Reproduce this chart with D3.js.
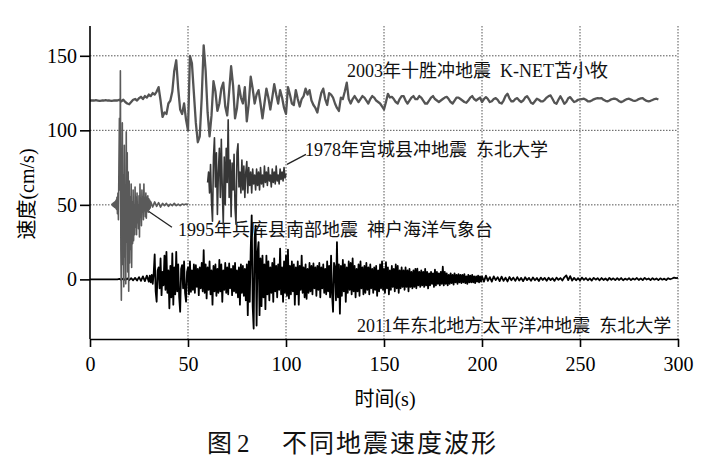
<!DOCTYPE html>
<html><head><meta charset="utf-8">
<script src="https://cdn.jsdelivr.net/npm/d3@7/dist/d3.min.js"></script>
<style>body{margin:0;background:#fff}svg{display:block}</style>
</head><body>
<svg id="chart" width="705" height="463"></svg>
<script>
// ---- tick labels ----
const xTicks = [0, 50, 100, 150, 200, 250, 300];
const yTicks = [0, 50, 100, 150];
const yGrid = [50, 100, 150];

// ---- 2003 Tokachi-oki, K-NET Tomakomai (offset +120), t0=0, dt=1 ----
const tokachiT0 = 0, tokachiDt = 1;
const tokachi = [
 120,120,120,120.2,120,119.8,120,120,120.2,120,
 120,119.8,120,120,120,120.5,119.5,120.5,119,118,
 117.5,119,120.5,121,120,121.5,122.5,121,123,122,
 124,123,125,124,126,129,120,109,112,111,
 118,120,126,140,147,128,114,111,118,107,
 100,150,145,125,105,92,96,122,157,140,
 112,96,110,133,126,113,118,128,132,116,
 110,126,143,130,108,115,130,122,118,129,
 106,118,136,128,118,124,127,118,108,118,
 128,122,114,122,131,124,118,127,122,115,
 111,129,124,118,117,127,121,116,121,123,
 128,124,127,120,117,115,112,119,125,128,
 121,117,125,124,122,118,115,113,122,121,
 126,132,121,118,121,123,121,119,121,123,
 122,120,118,121,123,122,120,119,118,116,
 114,119,124.5,122,122.5,121,119,118,121,123,
 123,120,118,120,122,123,121,121,123,122,
 120,118,118,120,122,123,121,120,119,120,
 121,122,122.5,121,119,118,120,122,122,121,
 120,119,118.5,120,122,123,121,120,121,122,
 119,121,122.3,121,119,119.5,121,121.6,120.5,118.5,
 118,120,123,124.5,121.5,119.5,119.5,121,121.6,120,
 119,120,122,122.9,121,118.5,117.8,119.5,121.2,120.5,
 119.5,119.4,120.5,122,123,123.4,121,118.5,117.8,120.5,
 122.9,120.5,117.8,119,121.5,122.3,120.5,119,119.5,120.5,
 120.7,121,121.2,120.5,119.5,119.4,120,120.8,121.3,121.6,
 121.4,121.6,120.5,119.8,119.4,120,120.8,121.2,121.2,120.6,
 119.5,118.9,119.5,120.3,121,121.2,120.6,120,119.7,120.2,
 121,121.4,121.6,120.5,119.7,119.4,119.8,120.4,121,121.2,
 120.7
];

// ---- 1978 Miyagi-oki, Tohoku Univ. (about +70), t0=60, dt=0.5 ----
const miyagiT0 = 60, miyagiDt = 0.5;
const miyagi = [
 65,72,58,77,52,39,82,95,62,85,
 43.6,72,88,55,94,60,37,82,50,88,
 65,107,55,80,42,78,60,84,48,37,
 85,91,62,72,58,80,60,76,55,72,
 79,58,75,63,72,58,74,64,70,60,
 74,63,72,60,75,64,70,62,76,65,
 72,63,75,66,70,62,74,65,72,64,
 76,66,70,64,74,67,72,66,75,68,
 71
];

// ---- 1995 Hyogo-ken Nanbu, Kobe (offset +50) ----
const kobeMainT0 = 11, kobeMainDt = 0.25;
const kobeMain = [
 50,50.5,49.5,51,49,51.5,48.5,52,
 48,53,47,55,44,58,40,75,
 108,60,140,20,-14,40,105,10,
 70,-5,90,15,60,-3,99,25,
 85,5,72,-8,66,11,55,20,
 64,8,52,24,60,26,50,30,
 62,35,55,30,58,38,50,34,
 56,28.5,64,42,52,36,60,45,
 55,40,64,46,53,42,58,41,
 55,46,56,45,54,47,53,48
];
const kobeTailT0 = 31, kobeTailDt = 1;
const kobeTail = [52,48.5,52,49,51.5,48.5,51,49.5,51,49,50.5,49.5,51,49.5,50.5,49.5,50.5,50,50.5,50];

// ---- 2011 Tohoku, Tohoku Univ. (offset 0) ----
const tohokuPreT0 = 0, tohokuPreDt = 1;
const tohokuPre = [
 0,0,0,0,0,0,0,0,0,0,
 0,0,0,0,0,0.3,-0.3,0.5,-0.4,0.6,
 -0.5,0.8,-0.6,1,-0.8,1.5,-1,2,-1.2,2.5
];
const tohokuMainT0 = 30, tohokuMainDt = 0.5;
const tohokuMain = [
 -1.5,2.5,-2,3,-3,4,16.7,-8,-15,6,
 8,-6,14,-10.6,5,-4,16,-7,18.5,-9,
 6,-19.4,9,-12,17.4,-17,8,-10,18.5,-8,
 10,-12,-21.7,7,9.6,-6,12,-9,-15,5,
 8,-10,12,-8.3,6,-7,10,-9,9.6,-5,
 7,-10.6,8,-6,11,-8,19.6,-9,10,-12.8,
 8,-7,12,-10,6,-17,9,-8,10,-11,
 7,-9,13,-8,10,-15,6,-7,11,-9,
 8,-10,10.7,-6,7,-10.6,9,-8,11,-9,
 6,-12,8,-17,10,-9,9,-11,7,-14,
 10,-24,12,-15,20,43,-18,-33,28,36,
 -31,18,25,-24,14,-18,16,-12,10,-20,
 16,-10,12,-14,8,-9,11,-15,14,-8,
 9,-12,10,-7,20.7,-10,8,-15,12,-9,
 16,-11,20,-12.8,9,-10,12,-8,10,-17,
 8,-10,12,-17,9,-7,16,-9,8,-12,
 10,-13,7,-9,11,-8,9,-10,10.7,-6,
 8,-11,9,-7,11,-12,8,-6,10,-9,
 7,-10,12,-8,9,-12,16,-10,-21.7,11,
 8,-14,25,-12,10,-23,9,-11,13,-8,
 10,-15,8,-9,12,-7,11,-10,14,-8,
 9,-12,7,-8,10,-11,12,-6,8,-10,
 9,-9,11,-7,8,-10,10,-6,7,-9,
 8,-7,9,-11,6,-8,10,-6,12,-7,
 7,-9,11.5,-6,8,-10,6,-7,9,-5,
 7,-8,10,-6,9,-9,6,-6,8,-5,
 6,-7,8,-5,6,-8,7,-5,5,-6,
 6,-5,7,-6,7.2,-4,5,-5,6,-4,
 5,-5,7,-4,5,-6,4,-4,5,-3,
 4,-5,6.5,-4,5,-3,4,-4,5,-3,
 8.5,-4,5,-3,4,-4,3,-3,4,-2.5,
 3,-3.5,4,-2,3,-3,3.5,-2,3,-2.5,
 3,-2,3.5,-2.5,2,-3,3,-2,2.5,-2,
 3,-2,2,-2.5,2,-1.5,2.5,-2,2,-1.5
];
const tohokuTailT0 = 200, tohokuTailDt = 1;
const tohokuTail = [
 2,-1.5,2.5,-1,1.5,-1.5,2,-0.5,1.5,-1.2,
 1.8,-1,1.2,-1.4,1.6,-0.6,1.2,-1,1.5,-0.8,
 1,-1.2,1.4,-0.5,1,-1,1.3,-0.6,0.9,-1.1,
 1.2,-0.4,1,-0.9,1.1,-0.5,0.8,-1,1.2,-0.3,
 0.9,-0.8,1.4,2.7,-0.5,2.2,-0.8,1,-0.6,0.8,
 -0.7,1.2,-0.3,0.9,-0.6,0.7,-0.8,1,-0.2,0.8,
 -0.6,0.9,-0.4,0.6,-0.7,1,-0.3,0.7,-0.5,0.8,
 -0.4,0.9,-0.6,0.5,-0.3,0.8,-0.5,0.6,-0.2,0.9,
 -0.4,0.7,-0.5,1,-0.1,0.6,-0.5,0.8,-0.2,0.6,
 -0.5,0.7,-0.2,0.5,-0.4,0.8,0.1,0.6,1.2,0.8,
 1
];

// ---- annotation texts (data-space anchor: t, v of baseline start) ----
const labelTexts = ["2003年十胜冲地震  K-NET苫小牧", "1978年宫城县冲地震  东北大学", "1995年兵库县南部地震  神户海洋气象台", "2011年东北地方太平洋冲地震  东北大学"];
const labelT = [131.1, 109.7, 44.9, 136.2];
const labelV = [136, 82.5, 29, -35.3];
const leaders = [[100.5, 77.2, 110.2, 83.9], [29.1, 46.4, 41.8, 35]];

// ---- build ----
function seg(t0, dt, vals) { return vals.map((v, i) => [t0 + i * dt, v]); }
const seriesList = [
  { data: seg(tohokuPreT0, tohokuPreDt, tohokuPre).concat(seg(tohokuMainT0, tohokuMainDt, tohokuMain), seg(tohokuTailT0, tohokuTailDt, tohokuTail)), color: "#000", w: 1.8 },
  { data: seg(kobeMainT0, kobeMainDt, kobeMain).concat(seg(kobeTailT0, kobeTailDt, kobeTail)), color: "#5a5a5a", w: 1.6 },
  { data: seg(miyagiT0, miyagiDt, miyagi), color: "#363636", w: 1.6 },
  { data: seg(tokachiT0, tokachiDt, tokachi), color: "#545454", w: 2.3 }
];

const svg = d3.select("#chart");
const x = d3.scaleLinear().domain([0, 300]).range([90, 678]);
const y = d3.scaleLinear().domain([-40, 170]).range([339, 26]);
const serif = "'Liberation Serif','Times New Roman','Noto Sans CJK SC',serif";
const cjk = "'Liberation Serif','Noto Sans CJK SC',sans-serif";

// grid
const grid = svg.append("g").attr("stroke", "#555").attr("stroke-width", 1).attr("stroke-dasharray", "1.5,1.5");
grid.selectAll("line.v").data(xTicks.filter(d => d > 0)).join("line")
  .attr("x1", d => x(d)).attr("x2", d => x(d)).attr("y1", y(170)).attr("y2", y(-40));
grid.selectAll("line.h").data(yGrid).join("line").attr("class", "h")
  .attr("x1", x(0)).attr("x2", x(300)).attr("y1", d => y(d)).attr("y2", d => y(d));

// labels (under the traces)
const lab = svg.append("g").attr("font-family", cjk).attr("font-size", 18).attr("fill", "#111");
lab.selectAll("text").data(labelTexts).join("text")
  .attr("x", (d, i) => x(labelT[i])).attr("y", (d, i) => y(labelV[i]))
  .style("white-space", "pre").text(d => d);
svg.append("g").attr("stroke", "#222").attr("stroke-width", 1.3)
  .selectAll("line").data(leaders).join("line")
  .attr("x1", d => x(d[0])).attr("y1", d => y(d[1])).attr("x2", d => x(d[2])).attr("y2", d => y(d[3]));

// traces
const line = d3.line().x(d => x(d[0])).y(d => y(d[1]));
svg.append("g").selectAll("path").data(seriesList).join("path")
  .attr("d", d => line(d.data)).attr("fill", "none")
  .attr("stroke", d => d.color).attr("stroke-width", d => d.w).attr("stroke-linejoin", "round");

// axes
const ax = svg.append("g").attr("transform", `translate(0,${y(-40)})`)
  .call(d3.axisBottom(x).tickValues(xTicks).tickSize(8).tickSizeOuter(0).tickPadding(10));
const ay = svg.append("g").attr("transform", `translate(${x(0)},0)`)
  .call(d3.axisLeft(y).tickValues(yTicks).tickSize(10).tickSizeOuter(0).tickPadding(3));
[ax, ay].forEach(g => {
  g.attr("font-family", serif).attr("font-size", 20);
  g.selectAll("path,line").attr("stroke", "#000").attr("stroke-width", 1.6);
  g.selectAll("text").attr("font-family", serif).attr("font-size", 20).attr("fill", "#000");
});
ay.select("path.domain").attr("d", `M0,${y(-40)}V${y(170)}`);

// axis titles
svg.append("text").attr("x", 385).attr("y", 406).attr("text-anchor", "middle")
  .attr("font-family", cjk).attr("font-size", 20).text("时间(s)");
svg.append("text").attr("transform", "translate(27,194) rotate(-90)").attr("text-anchor", "middle")
  .attr("dominant-baseline", "central").attr("font-family", cjk).attr("font-size", 20).text("速度(cm/s)");

// figure caption
const cap = svg.append("text").attr("y", 452).attr("font-family", cjk).attr("font-size", 25).attr("fill", "#111");
cap.append("tspan").attr("x", 207).text("图");
cap.append("tspan").attr("x", 237).text("2");
cap.append("tspan").attr("x", 282).attr("letter-spacing", 2).text("不同地震速度波形");
</script>
</body></html>
